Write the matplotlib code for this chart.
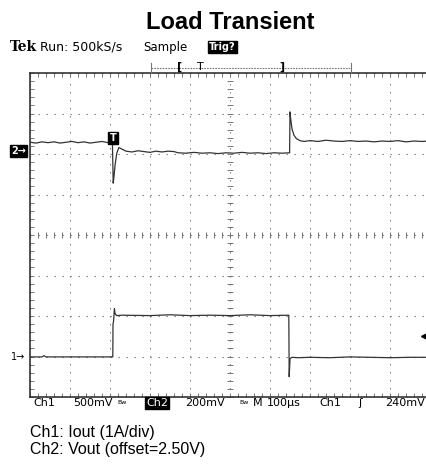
import numpy as np
import matplotlib.pyplot as plt

# scope screen, everything in divisions (10 x 8, centre = 0)
# Ch2: Vout, 200mV/div
t2 = [0.0, 0.15, 0.3, 0.45, 0.6, 0.75, 0.9, 1.05, 1.2, 1.35, 1.5, 1.65, 1.8, 1.95, 2.06,
      2.08, 2.1, 2.13, 2.17, 2.22, 2.3, 2.4, 2.55, 2.7, 2.85, 3.0, 3.15, 3.3, 3.45, 3.6,
      3.7, 3.9, 4.1, 4.3, 4.5, 4.7, 4.9, 5.1, 5.3, 5.5, 5.7, 5.9, 6.1, 6.3, 6.49,
      6.5, 6.52, 6.55, 6.6, 6.66, 6.75, 6.85, 7.0, 7.2, 7.4, 7.6, 7.8, 8.0, 8.2, 8.4,
      8.6, 8.8, 9.0, 9.2, 9.4, 9.6, 9.8, 10.0]
v2 = [2.29, 2.27, 2.30, 2.28, 2.30, 2.27, 2.29, 2.31, 2.28, 2.30, 2.27, 2.29, 2.31, 2.28, 2.29,
      1.28, 1.45, 1.75, 2.02, 2.16, 2.12, 2.07, 2.05, 2.08, 2.06, 2.04, 2.07, 2.05, 2.07, 2.06,
      2.03, 2.02, 2.04, 2.02, 2.03, 2.01, 2.03, 2.02, 2.04, 2.02, 2.03, 2.01, 2.03, 2.02, 2.03,
      3.04, 2.85, 2.62, 2.46, 2.38, 2.33, 2.31, 2.33, 2.31, 2.34, 2.32, 2.31, 2.33, 2.31, 2.32,
      2.30, 2.32, 2.31, 2.33, 2.30, 2.32, 2.31, 2.32]

# Ch1: Iout, 1A/div
t1 = [0.0, 0.3, 0.35, 0.4, 1.0, 2.07, 2.075, 2.09, 2.11, 2.13, 2.17, 2.3, 3.0, 3.5, 4.0,
      4.5, 5.0, 5.5, 6.0, 6.47, 6.48, 6.5, 6.55, 6.7, 7.0, 7.5, 8.0, 8.5, 9.0, 9.5, 10.0]
v1 = [-3.01, -3.01, -2.98, -3.01, -3.01, -3.01, -2.2, -2.12, -1.82, -1.95, -1.99, -1.98, -1.99, -1.97, -1.99,
      -1.98, -1.99, -1.97, -1.99, -1.98, -3.5, -3.05, -3.02, -3.03, -3.02, -3.03, -3.01, -3.02, -3.03, -3.02, -3.02]

ch2_ref = 2.07
ch1_ref = -3.01
trig_t = 2.075
trig_lvl = -2.5

W, H = 427, 466
fig = plt.figure(figsize=(W / 100, H / 100), dpi=100)
ax = fig.add_axes([30 / W, 69 / H, 400 / W, 324 / H])
ax.set_xlim(0, 10)
ax.set_ylim(-4, 4)

def pt(x, y):
    return x / W, 1 - y / H

# graticule
ax.set_xticks(np.arange(0, 11, 1))
ax.set_yticks(np.arange(-4, 5, 1))
ax.set_xticks(np.arange(0, 10.01, 0.2), minor=True)
ax.set_yticks(np.arange(-4, 4.01, 0.2), minor=True)
ax.tick_params(which='both', direction='in', length=3, width=0.7, color='#777777',
               top=True, bottom=True, left=True, right=False,
               labelbottom=False, labelleft=False)
ax.grid(which='major', color='#777777', lw=0.8, ls=(0, (1.2, 6)))
for s in ['left', 'top', 'bottom']:
    ax.spines[s].set_color('#333333')
    ax.spines[s].set_linewidth(1.2)
ax.spines['right'].set_visible(False)

minor_x = np.arange(0, 10.01, 0.2)
minor_y = np.arange(-4, 4.01, 0.2)
ax.plot(minor_x, np.zeros_like(minor_x), ls='none', marker='|', ms=5, mew=0.7, color='#777777')
ax.plot(np.full_like(minor_y, 5.0), minor_y, ls='none', marker='_', ms=5, mew=0.7, color='#777777')

# traces
ax.plot(t2, v2, color='#333333', lw=0.9)
ax.plot(t1, v1, color='#333333', lw=0.9)

# trigger marker on screen
ax.text(trig_t, 2.4, 'T', ha='center', va='center', color='white', fontsize=7,
        fontweight='bold',
        bbox=dict(boxstyle='square,pad=0.12', fc='black', ec='black'))
ax.plot([9.85], [trig_lvl], marker='<', ms=5, color='black', clip_on=False)

# channel markers
y2 = H - ax.transData.transform((0, ch2_ref))[1]
y1 = H - ax.transData.transform((0, ch1_ref))[1]
fig.text(*pt(11, y2), '2\u2192', ha='left', va='center', color='white', fontsize=7,
         fontweight='bold', bbox=dict(boxstyle='square,pad=0.1', fc='black', ec='black'))
fig.text(*pt(11, y1), '1\u2192', ha='left', va='center', color='black', fontsize=7)

# title
fig.text(*pt(230, 29), 'Load Transient', ha='center', va='baseline', fontsize=17,
         fontweight='bold', family='Liberation Sans')

# header
fig.text(*pt(10, 47), 'Tek', ha='left', va='center', fontsize=10, fontweight='bold',
         family='DejaVu Serif')
fig.text(*pt(40, 47), 'Run: 500kS/s', ha='left', va='center', fontsize=9)
fig.text(*pt(143, 47), 'Sample', ha='left', va='center', fontsize=8.5)
fig.text(*pt(209, 47), 'Trig?', ha='left', va='center', fontsize=7, color='white',
         fontweight='bold', bbox=dict(boxstyle='square,pad=0.1', fc='black', ec='black'))

# record bracket
bx = [151 / W, 351 / W]
by = 1 - 68 / H
fig.add_artist(plt.Line2D(bx, [by, by], color='#777777', lw=0.8, ls=(0, (1.5, 1))))
for x in bx:
    fig.add_artist(plt.Line2D([x, x], [by - 5 / H, by + 5 / H], color='#777777', lw=0.8))
fig.text(*pt(180, 67), '[', ha='center', va='center', fontsize=8, fontweight='bold')
fig.text(*pt(200, 67), 'T', ha='center', va='center', fontsize=8)
fig.text(*pt(282, 67), ']', ha='center', va='center', fontsize=8, fontweight='bold')

# bottom readout
by2 = 403
fig.text(*pt(33, by2), 'Ch1', ha='left', va='center', fontsize=8)
fig.text(*pt(73, by2), '500mV', ha='left', va='center', fontsize=8)
fig.text(*pt(117, by2), 'Bw', ha='left', va='center', fontsize=4.5)
fig.text(*pt(146, by2), 'Ch2', ha='left', va='center', fontsize=8, color='white',
         bbox=dict(boxstyle='square,pad=0.08', fc='black', ec='black'))
fig.text(*pt(185, by2), '200mV', ha='left', va='center', fontsize=8)
fig.text(*pt(239, by2), 'Bw', ha='left', va='center', fontsize=4.5)
fig.text(*pt(253, by2), 'M', ha='left', va='center', fontsize=8)
fig.text(*pt(267, by2), '100\u00b5s', ha='left', va='center', fontsize=8)
fig.text(*pt(319, by2), 'Ch1', ha='left', va='center', fontsize=8)
fig.text(*pt(360, by2), '\u0283', ha='center', va='center', fontsize=8)
fig.text(*pt(385, by2), '240mV', ha='left', va='center', fontsize=8)

# caption
fig.text(*pt(30, 437), 'Ch1: Iout (1A/div)', ha='left', va='baseline', fontsize=11.5,
         family='Liberation Sans')
fig.text(*pt(30, 454), 'Ch2: Vout (offset=2.50V)', ha='left', va='baseline', fontsize=11.5,
         family='Liberation Sans')

fig.savefig('out.png', dpi=100)
